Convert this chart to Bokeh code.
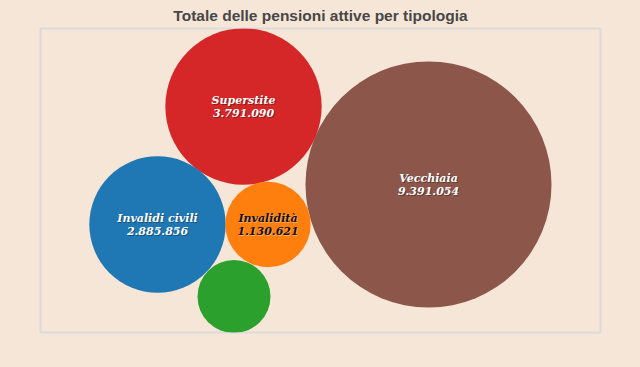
from bokeh.plotting import figure
from bokeh.models import ColumnDataSource, Range1d
from bokeh.core.properties import value
from bokeh.embed import file_html
from bokeh.resources import INLINE
import math

# ---- data ----
title_text = "Totale delle pensioni attive per tipologia"
categories = ["Vecchiaia", "Superstite", "Invalidi civili", "Invalidità", "Assegni sociali"]
pensions = [9391054, 3791090, 2885856, 1130621, 826000]
colors = ["#8c564b", "#d62728", "#1f77b4", "#ff7f0e", "#2ca02c"]
label_colors = ["#ffffff", "#ffffff", "#ffffff", "#111111", "#ffffff"]
# packed layout positions (frame px from top-left)
layout_x = [388, 203, 117, 227.5, 193.5]
layout_y = [156, 78, 196, 196, 268]

BG = "#f5e6d7"
K = 0.04014          # radius per sqrt(value)
MIN_LABEL_R = 40     # circles smaller than this get no label

radii = [K * math.sqrt(v) for v in pensions]
fmt = [f"{v:,}".replace(",", ".") for v in pensions]

src = ColumnDataSource(dict(x=layout_x, y=layout_y, r=radii, c=colors))
lab_idx = [i for i, r in enumerate(radii) if r >= MIN_LABEL_R]
lab = ColumnDataSource(dict(
    x=[layout_x[i] for i in lab_idx],
    y=[layout_y[i] for i in lab_idx],
    name=[categories[i] for i in lab_idx],
    val=[fmt[i] for i in lab_idx],
    tc=[label_colors[i] for i in lab_idx],
    sc=["#000000" if label_colors[i] == "#ffffff" else "#ffffff" for i in lab_idx],
))

p = figure(frame_width=560, frame_height=304,
           x_range=Range1d(0, 560), y_range=Range1d(304, 0),
           x_axis_type=None, y_axis_type=None,
           output_backend="svg", toolbar_location=None,
           min_border_left=40, min_border_right=40, min_border_top=28, min_border_bottom=35)
p.grid.visible = False
p.background_fill_color = BG
p.border_fill_color = BG
p.outline_line_color = "#dcdcdc"
p.outline_line_width = 2

p.title.text = title_text
p.title.align = "center"
p.title.text_font = "Liberation Sans"
p.title.text_font_style = "bold"
p.title.text_font_size = "15.5px"
p.title.text_color = "#474747"
p.title.standoff = 9
p.title.offset = 0

p.circle(x="x", y="y", radius="r", fill_color="c", line_color=None, source=src)

font = value("DejaVu Serif")
for field, off in (("name", -6.5), ("val", 6.5)):
    p.text(x="x", y="y", text=field, source=lab, text_font=font,
           text_font_style="bold italic", text_font_size="11px",
           text_align="center", text_baseline="middle",
           text_color="sc", text_alpha=0.35, x_offset=1, y_offset=off + 1)
    p.text(x="x", y="y", text=field, source=lab, text_font=font,
           text_font_style="bold italic", text_font_size="11px",
           text_align="center", text_baseline="middle",
           text_color="tc", y_offset=off)

html = file_html(p, INLINE)
html = html.replace("</head>", "<style>html,body{background:%s;margin:0;padding:0;overflow:hidden;}</style></head>" % BG, 1)
open("out.html", "w").write(html)
